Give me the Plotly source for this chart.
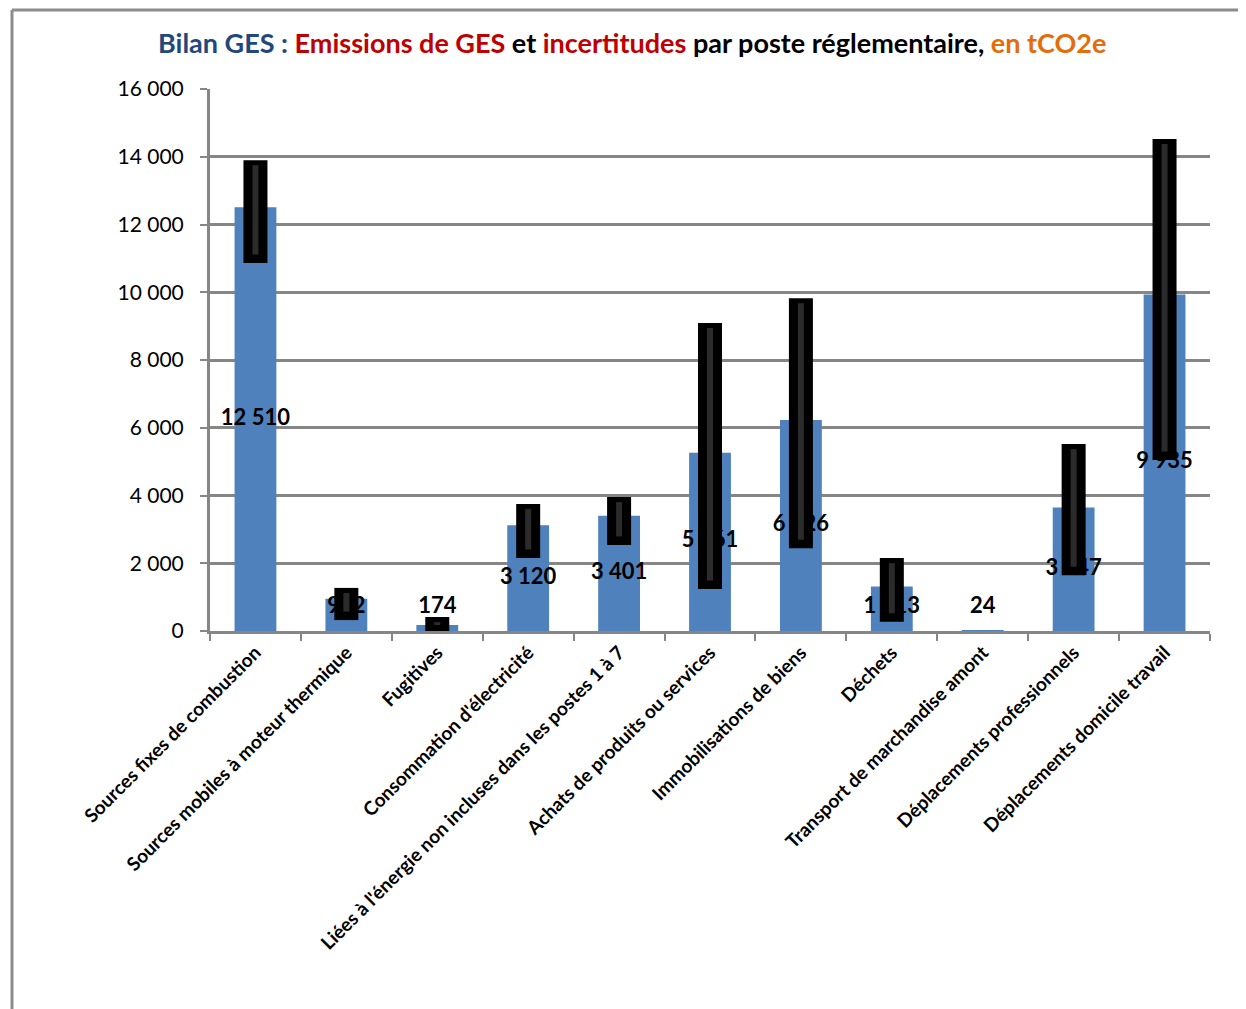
import plotly.graph_objects as go

categories = [
    "Sources fixes de combustion",
    "Sources mobiles à moteur thermique",
    "Fugitives",
    "Consommation d'électricité",
    "Liées à l'énergie non incluses dans les postes 1 à 7",
    "Achats de produits ou services",
    "Immobilisations de biens",
    "Déchets",
    "Transport de marchandise amont",
    "Déplacements professionnels",
    "Déplacements domicile travail",
]
values = [12510, 952, 174, 3120, 3401, 5261, 6226, 1313, 24, 3647, 9935]
err_plus = [1390, 320, 240, 630, 555, 3830, 3600, 840, 0, 1870, 4590]
err_minus = [1650, 630, 235, 965, 860, 4020, 3780, 1040, 0, 2000, 4885]
labels = ["12 510", "952", "174", "3 120", "3 401", "5 261", "6 226", "1 313", "24", "3 647", "9 935"]
tick_vals = [0, 2000, 4000, 6000, 8000, 10000, 12000, 14000, 16000]
tick_text = ["0", "2 000", "4 000", "6 000", "8 000", "10 000", "12 000", "14 000", "16 000"]

label_y = [max(v / 2, 700) for v in values]

fig = go.Figure()
fig.add_trace(go.Bar(
    x=categories, y=values, marker=dict(color="#4F81BD", line=dict(width=0)),
    hoverinfo="skip", showlegend=False,
))
fig.add_trace(go.Scatter(
    x=categories, y=label_y, mode="text", text=labels,
    textfont=dict(family="Lato", size=22, color="black", weight="bold"),
    textposition="middle center", showlegend=False, hoverinfo="skip",
))
fig.add_trace(go.Scatter(
    x=categories, y=values, mode="markers",
    marker=dict(size=1, color="rgba(0,0,0,0)"),
    error_y=dict(type="data", symmetric=False, array=err_plus, arrayminus=err_minus,
                 color="black", thickness=24, width=0),
    showlegend=False, hoverinfo="skip",
))
fig.add_trace(go.Scatter(
    x=categories, y=values, mode="markers",
    marker=dict(size=1, color="rgba(0,0,0,0)"),
    error_y=dict(type="data", symmetric=False,
                 array=[max(p - 150, 0) for p in err_plus],
                 arrayminus=[max(m - 250, 0) for m in err_minus],
                 color="#2b2b2b", thickness=6, width=0),
    showlegend=False, hoverinfo="skip",
))

fig.update_layout(
    width=1238, height=1001,
    margin=dict(l=202, r=36, t=81, b=378),
    paper_bgcolor="white", plot_bgcolor="white",
    bargap=0.54,
    font=dict(family="Lato", color="black"),
    xaxis=dict(
        type="category", tickangle=-45, range=[-0.5, len(categories) - 0.5],
        tickfont=dict(family="Lato", size=19, color="black", weight="bold"),
        showline=True, linecolor="#868686", linewidth=3,
        ticks="outside", ticklen=7, tickcolor="#868686", tickwidth=2,
        tickson="boundaries", showgrid=False,
    ),
    yaxis=dict(
        range=[0, 16000], tickvals=tick_vals, ticktext=tick_text,
        tickfont=dict(family="Lato", size=21, color="black"),
        showline=True, linecolor="#868686", linewidth=3,
        ticks="outside", ticklen=7, tickcolor="#868686", tickwidth=2,
        ticklabelstandoff=12,
        showgrid=True, gridcolor="#868686", gridwidth=3,
        zeroline=False,
    ),
    annotations=[dict(
        xref="paper", yref="paper", x=0.422, y=1.0867, xanchor="center", yanchor="middle",
        showarrow=False,
        text=("<b><span style='color:#1F497D'>Bilan GES : </span>"
              "<span style='color:#C00000'>Emissions de GES</span>"
              "<span style='color:black'> et </span>"
              "<span style='color:#C00000'>incertitudes</span>"
              "<span style='color:black'> par poste réglementaire, </span>"
              "<span style='color:#E46C0A'>en tCO2e</span></b>"),
        font=dict(family="Lato", size=27),
    )],
    shapes=[
        dict(type="line", xref="paper", yref="paper", x0=-0.198, x1=-0.198, y0=-0.75, y1=1.1458,
             line=dict(color="#8c8c8c", width=3)),
        dict(type="line", xref="paper", yref="paper", x0=-0.198, x1=1.1, y0=1.1458, y1=1.1458,
             line=dict(color="#8c8c8c", width=3)),
    ],
)

fig.write_html("out.html")
